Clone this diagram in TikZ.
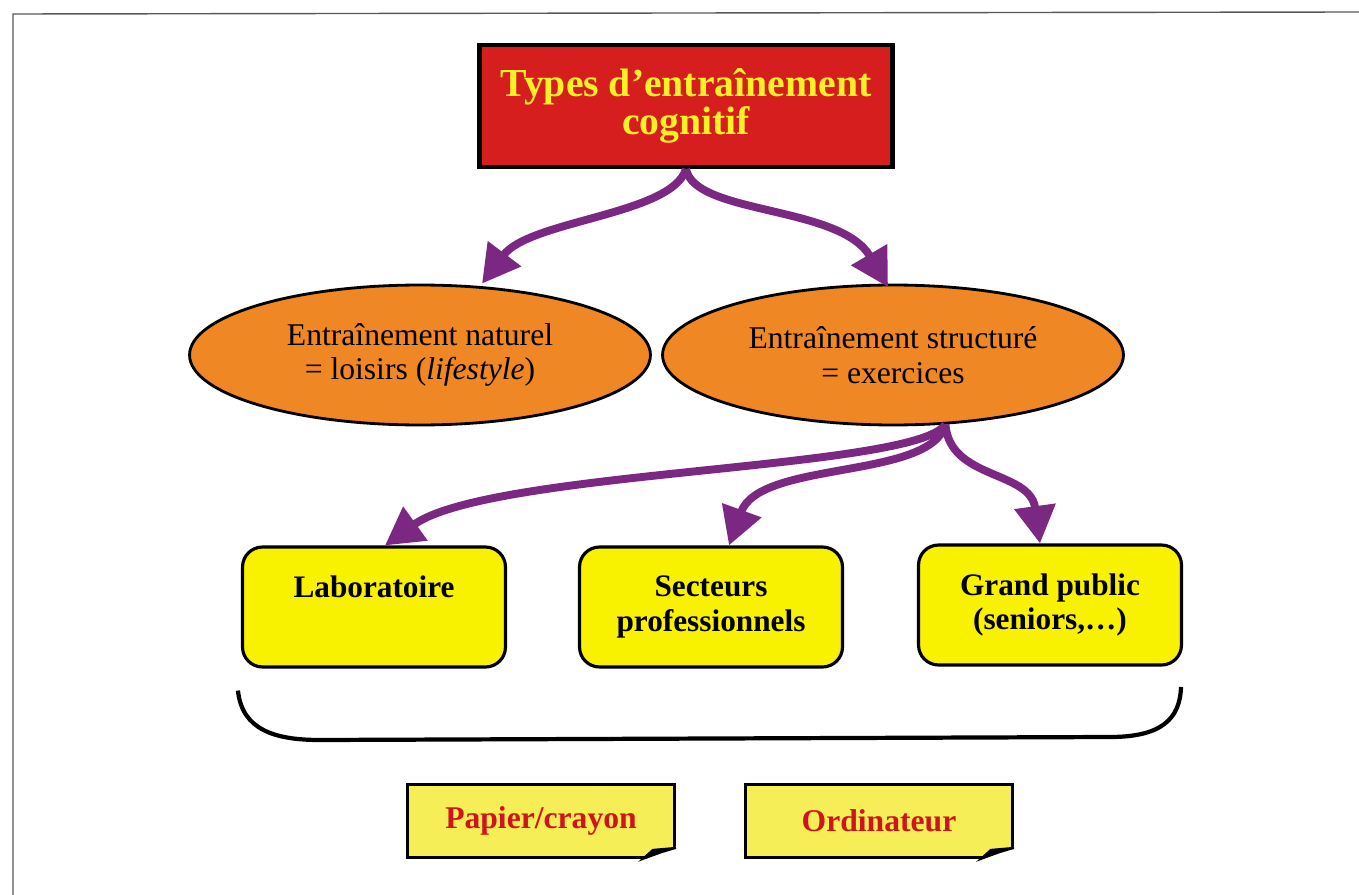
\documentclass[tikz,border=0pt]{standalone}
\usepackage{fontspec}
\setmainfont{Liberation Serif}
\usetikzlibrary{shapes.geometric,arrows.meta}
\definecolor{titlered}{RGB}{214,30,30}
\definecolor{titleyellow}{RGB}{250,240,40}
\definecolor{ovalorange}{RGB}{239,136,36}
\definecolor{fieldyellow}{RGB}{248,242,0}
\definecolor{noteyellow}{RGB}{246,238,86}
\definecolor{notered}{RGB}{208,20,28}
\definecolor{linkpurple}{RGB}{122,40,130}
\begin{document}
\begin{tikzpicture}[x=0.02cm, y=-0.02cm,
    every node/.style={align=center, inner sep=0pt},
    titlebox/.style={draw, line width=2.4pt, fill=titlered, text=titleyellow, minimum width=8.26cm, minimum height=2.44cm, font=\bfseries\fontsize{22.6}{21.5}\selectfont},
    oval/.style={ellipse, draw, line width=1.6pt, fill=ovalorange, minimum width=9.22cm, minimum height=2.8cm, font=\fontsize{18}{19.8}\selectfont},
    field/.style={draw, line width=1.8pt, rounded corners=0.4cm, fill=fieldyellow, minimum width=5.26cm, minimum height=2.4cm, font=\bfseries\fontsize{17.8}{19.6}\selectfont},
    note/.style={draw, line width=1.6pt, fill=noteyellow, text=notered, minimum width=5.34cm, minimum height=1.46cm, font=\bfseries\fontsize{18}{20}\selectfont},
    link/.style={draw=linkpurple, line width=4.5pt, -{Triangle[length=0.75cm,width=0.8cm]}}]
    \useasboundingbox (0,0) rectangle (1359,895);
    \draw[gray!70!black, line width=0.8pt] (13,895) -- (13,14) -- (1359,12);

    \node[titlebox] (types) at (686,106) {Types d’entraînement\\cognitif};
    \node[oval] (naturel) at (420,355) {Entraînement naturel\\= loisirs (\textit{lifestyle})};
    \node[oval] (struct) at (893,355) {Entraînement structuré\\= exercices};

    \node[field] (labo) at (374,607) {Laboratoire\\[4pt]\mbox{}};
    \node[field] (secteurs) at (711,607) {Secteurs\\professionnels};
    \node[field] (public) at (1050,605) {Grand public\\(seniors,…)};

    \node[note] (papier) at (541,821) {Papier/crayon};
    \node[note] (ordi) at (879,821) {Ordinateur};

    % curled corners of the two notes
    \foreach \n in {papier,ordi} {
        \begin{scope}[shift={(\n.south east)}]
            \fill[white] (2,2) -- (-35,2) -- (2,-13) -- cycle;
            \draw[line width=1.2pt, fill=black] (-33,0) -- (-23,-9) -- (0,-11) .. controls (-14,-7) .. cycle;
        \end{scope}
    }

    \draw[link] (types.south) .. controls (672,215) and (530,220) .. (naturel.north -| 482,0);
    \draw[link] (types.south) .. controls (695,215) and (840,205) .. (888,287);

    \draw[link] (struct.-53) .. controls (915,470) and (490,470) .. (labo.north -| 385,0);
    \draw[link] (struct.-53) .. controls (930,480) and (760,460) .. (secteurs.north -| 729,0);
    \draw[link] (struct.-53) .. controls (950,480) and (1030,470) .. (public.north -| 1040,0);

    % brace under the three fields
    \draw[line width=2.4pt] (labo.south west) ++(-3,22) .. controls (242,730) and (275,740) .. (320,740) -- (1110,737) .. controls (1160,737) and (1180,720) .. (1181,687);
\end{tikzpicture}
\end{document}
